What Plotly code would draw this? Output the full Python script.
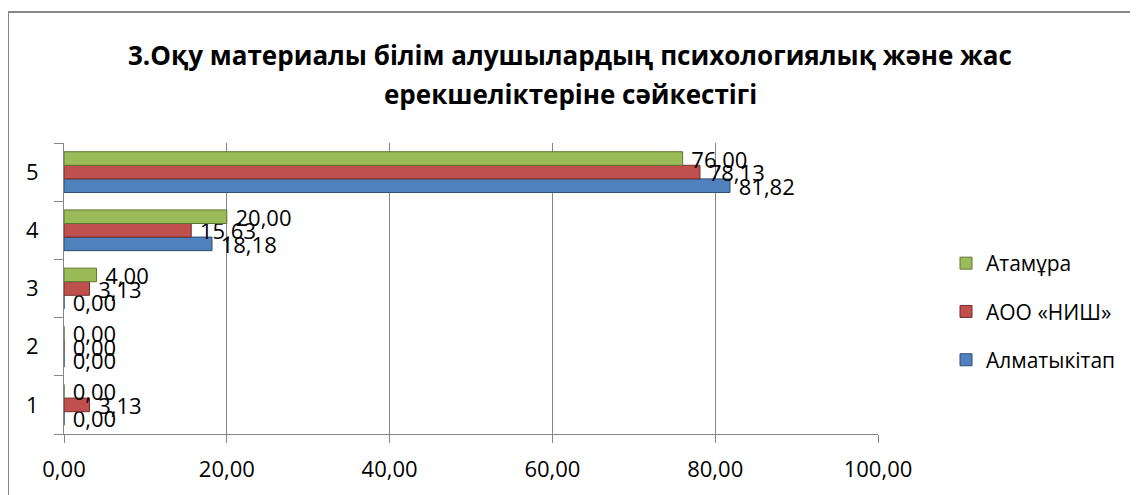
import plotly.graph_objects as go

categories = ["1", "2", "3", "4", "5"]
series_names = ["Алматыкітап", "АОО «НИШ»", "Атамұра"]
almatykitap = [0.00, 0.00, 0.00, 18.18, 81.82]
nish = [3.13, 0.00, 3.13, 15.63, 78.13]
atamura = [0.00, 0.00, 4.00, 20.00, 76.00]
x_ticks = [0, 20, 40, 60, 80, 100]
title_lines = ["3.Оқу материалы білім алушылардың психологиялық және жас",
               "ерекшеліктеріне сәйкестігі"]

colors = ["#4F81BD", "#C0504D", "#9BBB59"]
edges = ["#2C4D75", "#772C2A", "#5F7530"]
values = [almatykitap, nish, atamura]

FONT = "Open Sans"
fig = go.Figure()
for i, (name, vals, c, e) in enumerate(zip(series_names, values, colors, edges)):
    fig.add_trace(go.Bar(
        y=categories, x=vals, name=name, orientation="h",
        marker=dict(color=c, line=dict(color=e, width=1)),
        text=vals, texttemplate=" %{x:.2f}", textposition="outside",
        constraintext="none",
        textfont=dict(family=FONT, size=22, color="black"),
        cliponaxis=False, legendgroup=name, legendrank=3 - i,
    ))

# page body has an 8px margin: work in screen pixels, then shift
OX, OY = 8, 8
W, H = 1130, 487
L, R, T, B = 64 - OX, 878 - OX, 143 - OY, 434 - OY
pw, ph = R - L, B - T

def px(x):
    return (x - OX - L) / pw

def py(y):
    return (B - (y - OY)) / ph

fig.update_layout(
    width=W, height=H,
    margin=dict(l=L, r=W - R, t=T, b=H - B, autoexpand=False),
    paper_bgcolor="white", plot_bgcolor="white",
    separators=", ",
    barmode="group", bargap=0.3, bargroupgap=0,
    showlegend=True,
    legend=dict(x=px(946), y=py(243), xanchor="left", yanchor="top",
                traceorder="grouped", tracegroupgap=18,
                font=dict(family=FONT, size=21, color="black"),
                bgcolor="rgba(0,0,0,0)"),
    font=dict(family=FONT, color="black"),
)
fig.update_xaxes(range=[0, 100], tickvals=x_ticks, tickformat=".2f",
                 showgrid=True, gridcolor="#868686", gridwidth=1,
                 showline=True, linecolor="#868686", linewidth=1,
                 ticks="outside", ticklen=8, tickcolor="#868686",
                 tickfont=dict(family=FONT, size=22, color="black"),
                 ticklabelstandoff=8, zeroline=False, fixedrange=True)
fig.update_yaxes(type="category", categoryorder="array", categoryarray=categories,
                 showgrid=False, showline=True, linecolor="#868686", linewidth=1,
                 ticks="outside", ticklen=9, tickcolor="#868686", tickson="boundaries",
                 tickfont=dict(family=FONT, size=22, color="black"),
                 ticklabelstandoff=20, fixedrange=True)

# chart frame
fig.add_shape(type="rect", xref="paper", yref="paper",
              x0=px(8), x1=px(1170), y0=py(540), y1=py(12),
              line=dict(color="#878787", width=2), fillcolor="rgba(0,0,0,0)",
              layer="below")

for line, yc in zip(title_lines, [55, 94]):
    fig.add_annotation(text="<b>%s</b>" % line, xref="paper", yref="paper",
                       x=px(570), y=py(yc), xanchor="center", yanchor="middle",
                       showarrow=False,
                       font=dict(family=FONT, size=26, color="black"))

fig.write_html("out.html")
